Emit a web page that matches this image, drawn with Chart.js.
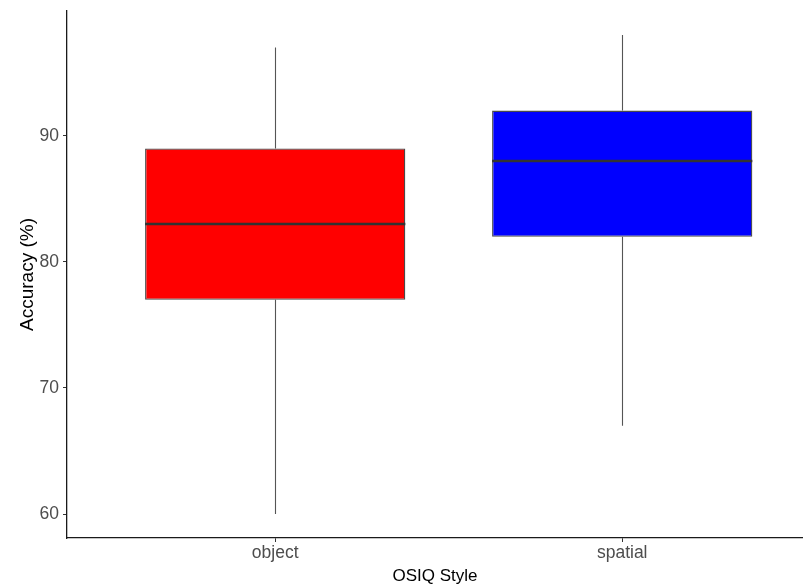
<!DOCTYPE html>
<html>
<head>
<meta charset="utf-8">
<script src="https://cdn.jsdelivr.net/npm/chart.js@4/dist/chart.umd.min.js"></script>
<style>
  html, body { margin: 0; padding: 0; background: #fff; }
  #wrap { width: 803px; height: 585px; overflow: hidden; }
</style>
</head>
<body>
<div id="wrap"><canvas id="c" width="803" height="585"></canvas></div>
<script>
// OSIQ style groups and their accuracy box-plot summaries (%)
const styles   = ['object', 'spatial'];
const whiskLo  = [60, 67];
const q1       = [77, 82];
const medians  = [83, 88];
const q3       = [89, 92];
const whiskHi  = [97, 98];
const yTicks   = [60, 70, 80, 90];
const fills    = ['#FF0000', '#0000FF'];

const positions = styles.map((s, i) => i + 1);
const BOX_FRAC = 0.75;

// whiskers under the boxes, medians over them
const boxLines = {
  id: 'boxLines',
  beforeDatasetsDraw(chart) {
    const { ctx, scales: { x, y } } = chart;
    ctx.save();
    ctx.strokeStyle = '#555555';
    ctx.lineWidth = 1.1;
    positions.forEach((p, i) => {
      const px = Math.round(x.getPixelForValue(p)) + 0.5;
      ctx.beginPath();
      ctx.moveTo(px, y.getPixelForValue(whiskHi[i]));
      ctx.lineTo(px, y.getPixelForValue(q3[i]));
      ctx.moveTo(px, y.getPixelForValue(q1[i]));
      ctx.lineTo(px, y.getPixelForValue(whiskLo[i]));
      ctx.stroke();
    });
    ctx.restore();
  },
  afterDatasetsDraw(chart) {
    const { ctx, scales: { x, y } } = chart;
    ctx.save();
    ctx.strokeStyle = '#333333';
    ctx.lineWidth = 2.6;
    positions.forEach((p, i) => {
      const x0 = x.getPixelForValue(p - BOX_FRAC / 2);
      const x1 = x.getPixelForValue(p + BOX_FRAC / 2);
      const py = y.getPixelForValue(medians[i]);
      ctx.beginPath();
      ctx.moveTo(x0, py);
      ctx.lineTo(x1, py);
      ctx.stroke();
    });
    ctx.restore();
  }
};

const family = '"Liberation Sans", Arial, sans-serif';
const tickFont = { family, size: 17.5 };

new Chart(document.getElementById('c'), {
  type: 'bar',
  data: {
    datasets: [{
      data: positions.map((p, i) => ({ x: p, y: [q1[i], q3[i]] })),
      backgroundColor: fills,
      borderColor: '#4a4a4a',
      borderWidth: 1.3,
      borderSkipped: false,
      categoryPercentage: 1,
      barPercentage: BOX_FRAC
    }]
  },
  options: {
    responsive: false,
    animation: false,
    layout: { padding: { top: 11, right: 0, left: 0, bottom: 0 } },
    plugins: { legend: { display: false }, tooltip: { enabled: false } },
    scales: {
      x: {
        type: 'linear',
        offset: false,
        min: 0.4,
        max: 2.521,
        afterBuildTicks(scale) { scale.ticks = positions.map(v => ({ value: v })); },
        afterFit(scale) { scale.height = 47; scale.paddingLeft = 0; scale.paddingRight = 0; },
        ticks: {
          callback: (v) => styles[v - 1],
          color: '#4D4D4D',
          font: tickFont,
          padding: 1,
          maxRotation: 0,
          autoSkip: false
        },
        grid: { offset: false, drawOnChartArea: false, drawTicks: true, tickLength: 4, color: '#333333' },
        border: { display: true, color: '#1a1a1a', width: 1.3 },
        title: { display: true, text: 'OSIQ Style', color: '#000', font: { family, size: 17, lineHeight: 1.0 }, padding: { top: 8, bottom: 0 } }
      },
      y: {
        type: 'linear',
        min: 58.1,
        max: 99.9,
        afterBuildTicks(scale) { scale.ticks = yTicks.map(v => ({ value: v })); },
        afterFit(scale) { scale.width = 67; scale.paddingTop = 0; scale.paddingBottom = 0; },
        ticks: { color: '#4D4D4D', font: tickFont, padding: 4 },
        grid: { drawOnChartArea: false, drawTicks: true, tickLength: 4, color: '#333333' },
        border: { display: true, color: '#1a1a1a', width: 1.3 },
        title: { display: true, text: 'Accuracy (%)', color: '#000', font: { family, size: 19 }, padding: { top: 16, bottom: 0 } }
      }
    }
  },
  plugins: [boxLines]
});
</script>
</body>
</html>
